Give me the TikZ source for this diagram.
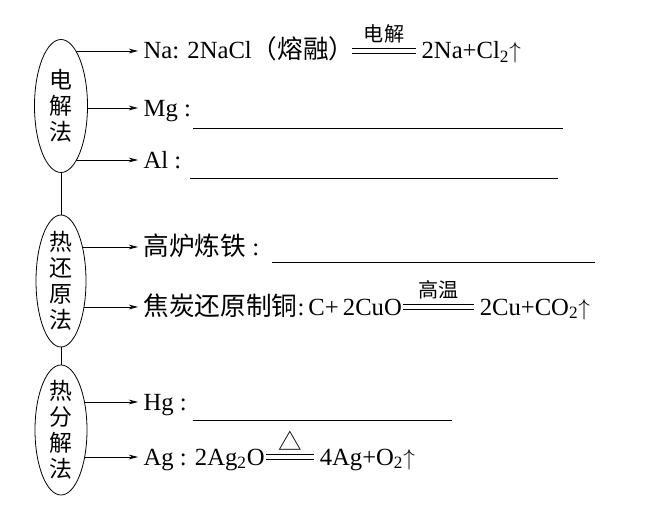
\documentclass[tikz,border=0pt]{standalone}
\usepackage{fontspec}
\setmainfont{Liberation Serif}
\newfontfamily\zh{Noto Sans CJK SC}[Scale=1.04]
\usetikzlibrary{arrows.meta,shapes.geometric,positioning,backgrounds}

\tikzset{
  method/.style={draw,ellipse,fill=white,line width=0.6pt,inner sep=0pt},
  methodtext/.style={align=center,inner sep=0pt,font=\zh\fontsize{16.5}{19.5}\selectfont},
  link/.style={line width=0.6pt},
  branch/.style={-{Stealth[length=7pt,width=3.6pt]},line width=0.6pt},
  item/.style={anchor=west,inner xsep=4pt,inner ysep=0pt,text height=12pt,text depth=0pt,font=\fontsize{18.5}{22}\selectfont},
  cond/.style={inner sep=1pt,font=\zh\fontsize{14.5}{16}\selectfont},
  eqbar/.style={line width=0.6pt},
  blank/.style={line width=0.6pt}
}

\begin{document}
\begin{tikzpicture}[x=0.75pt,y=-0.75pt]
\useasboundingbox (0,0) rectangle (658,521);

% methods
\node[method,minimum width=39.75pt,minimum height=99.75pt] (dj) at (61,106) {};
\node[method,minimum width=37.5pt,minimum height=99pt] (rh) at (61,281) {};
\node[method,minimum width=39pt,minimum height=97.5pt] (rf) at (61,430) {};
\node[methodtext] (djt) at (dj) {电\\解\\法};
\node[methodtext] (rht) at (rh) {热\\还\\原\\法};
\node[methodtext] (rft) at (rf) {热\\分\\解\\法};
\draw[link] (dj) -- (rh);
\draw[link] (rh) -- (rf);

% electrolysis
\node[item] (na) at (138,51) {Na: 2NaCl{\zh（熔融）}};
\node[item,right=42pt of na] (naprod) {2Na+Cl\textsubscript{2}$\uparrow$};
\draw[eqbar] ([xshift=-6pt,yshift=1.7pt]na.east) -- node[cond,above=3pt] (djcond) {电解} ([yshift=1.7pt]naprod.west)
  ([xshift=-6pt,yshift=-1.7pt]na.east) -- ([yshift=-1.7pt]naprod.west);
\node[item] (mg) at (138,108) {Mg :};
\draw[blank] (193,128) -- (563,128);
\node[item] (al) at (138,160) {Al :};
\draw[blank] (190,178) -- (558,178);

% thermal reduction
\node[item] (fe) at (138,247) {{\zh 高炉炼铁} :};
\draw[blank] (272,262) -- (595,262);
\node[item] (cu) at (138,307) {{\zh 焦炭还原制铜}:\,C+\,2CuO};
\node[item,right=50pt of cu] (cuprod) {2Cu+CO\textsubscript{2}$\uparrow$};
\draw[eqbar] ([xshift=-3pt,yshift=1.7pt]cu.east) -- node[cond,above=3pt] (gwcond) {高温} ([yshift=1.7pt]cuprod.west)
  ([xshift=-3pt,yshift=-1.7pt]cu.east) -- ([yshift=-1.7pt]cuprod.west);

% thermal decomposition
\node[item] (hg) at (138,402) {Hg :};
\draw[blank] (193,420) -- (452,420);
\node[item] (ag) at (138,457) {Ag : 2Ag\textsubscript{2}O};
\node[item,right=33pt of ag] (agprod) {4Ag+O\textsubscript{2}$\uparrow$};
\draw[eqbar] ([xshift=-3pt,yshift=1.7pt]ag.east) -- node[cond,above=2pt,font=\zh\fontsize{17}{18}\selectfont] (heat) {△} ([yshift=1.7pt]agprod.west)
  ([xshift=-3pt,yshift=-1.7pt]ag.east) -- ([yshift=-1.7pt]agprod.west);

\begin{scope}[on background layer]
\draw[branch] (dj.center |- na.west) -- (na.west);
\draw[branch] (dj.center |- mg.west) -- (mg.west);
\draw[branch] (dj.center |- al.west) -- (al.west);
\draw[branch] (rh.center |- fe.west) -- (fe.west);
\draw[branch] (rh.center |- cu.west) -- (cu.west);
\draw[branch] (rf.center |- hg.west) -- (hg.west);
\draw[branch] (rf.center |- ag.west) -- (ag.west);
\end{scope}
\end{tikzpicture}
\end{document}
